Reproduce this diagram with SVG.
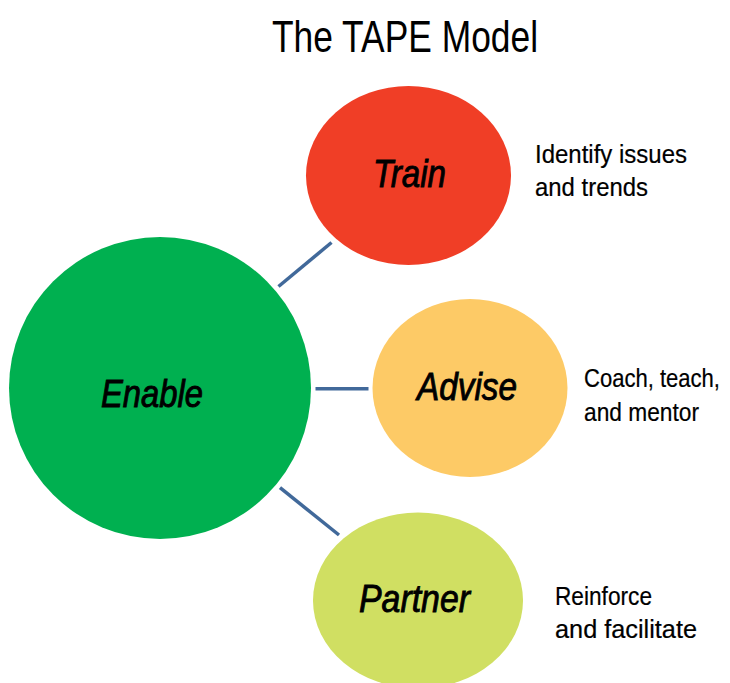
<svg xmlns="http://www.w3.org/2000/svg" width="730" height="683" viewBox="0 0 730 683">
  <style>
    .title { font-family: "Liberation Sans", Arial, sans-serif; font-size: 44px; fill: #000; }
    .node { font-family: "Liberation Sans", Arial, sans-serif; font-size: 38px; font-style: italic; fill: #000; stroke: #000; stroke-width: 0.9; }
    .lbl { font-family: "Liberation Sans", Arial, sans-serif; font-size: 25px; fill: #000; stroke: #000; stroke-width: 0.2; }
    .conn { stroke: #41699a; stroke-width: 3.5; fill: none; }
  </style>
  <rect width="730" height="683" fill="#ffffff"/>
  <text class="title" x="272" y="52" textLength="266" lengthAdjust="spacingAndGlyphs">The TAPE Model</text>
  <g id="connectors">
    <line class="conn" x1="278.5" y1="286.5" x2="331.5" y2="242.5"/>
    <line class="conn" x1="315.5" y1="388.7" x2="368.5" y2="388.7"/>
    <line class="conn" x1="280" y1="487.7" x2="339" y2="535"/>
  </g>
  <g id="enable">
    <ellipse cx="160" cy="388" rx="151" ry="151" fill="#00b050"/>
    <text class="node" x="101" y="407" textLength="102" lengthAdjust="spacingAndGlyphs">Enable</text>
  </g>
  <g id="train">
    <ellipse cx="408.5" cy="175.5" rx="102.5" ry="89.5" fill="#f03e26"/>
    <text class="node" x="373" y="187" textLength="73" lengthAdjust="spacingAndGlyphs">Train</text>
  </g>
  <g id="advise">
    <ellipse cx="470" cy="388" rx="97.5" ry="89" fill="#fdca66"/>
    <text class="node" x="417" y="400" textLength="100" lengthAdjust="spacingAndGlyphs">Advise</text>
  </g>
  <g id="partner">
    <ellipse cx="418" cy="600.5" rx="105" ry="88" fill="#d0df62"/>
    <text class="node" x="359" y="612" textLength="111" lengthAdjust="spacingAndGlyphs">Partner</text>
  </g>
  <g id="labels">
    <text class="lbl" x="535" y="163" textLength="152" lengthAdjust="spacingAndGlyphs">Identify issues</text>
    <text class="lbl" x="535" y="195.5" textLength="113" lengthAdjust="spacingAndGlyphs">and trends</text>
    <text class="lbl" x="584" y="387" textLength="136" lengthAdjust="spacingAndGlyphs">Coach, teach,</text>
    <text class="lbl" x="584" y="421" textLength="115" lengthAdjust="spacingAndGlyphs">and mentor</text>
    <text class="lbl" x="555" y="605" textLength="97" lengthAdjust="spacingAndGlyphs">Reinforce</text>
    <text class="lbl" x="555" y="638" textLength="142" lengthAdjust="spacingAndGlyphs">and facilitate</text>
  </g>
</svg>
